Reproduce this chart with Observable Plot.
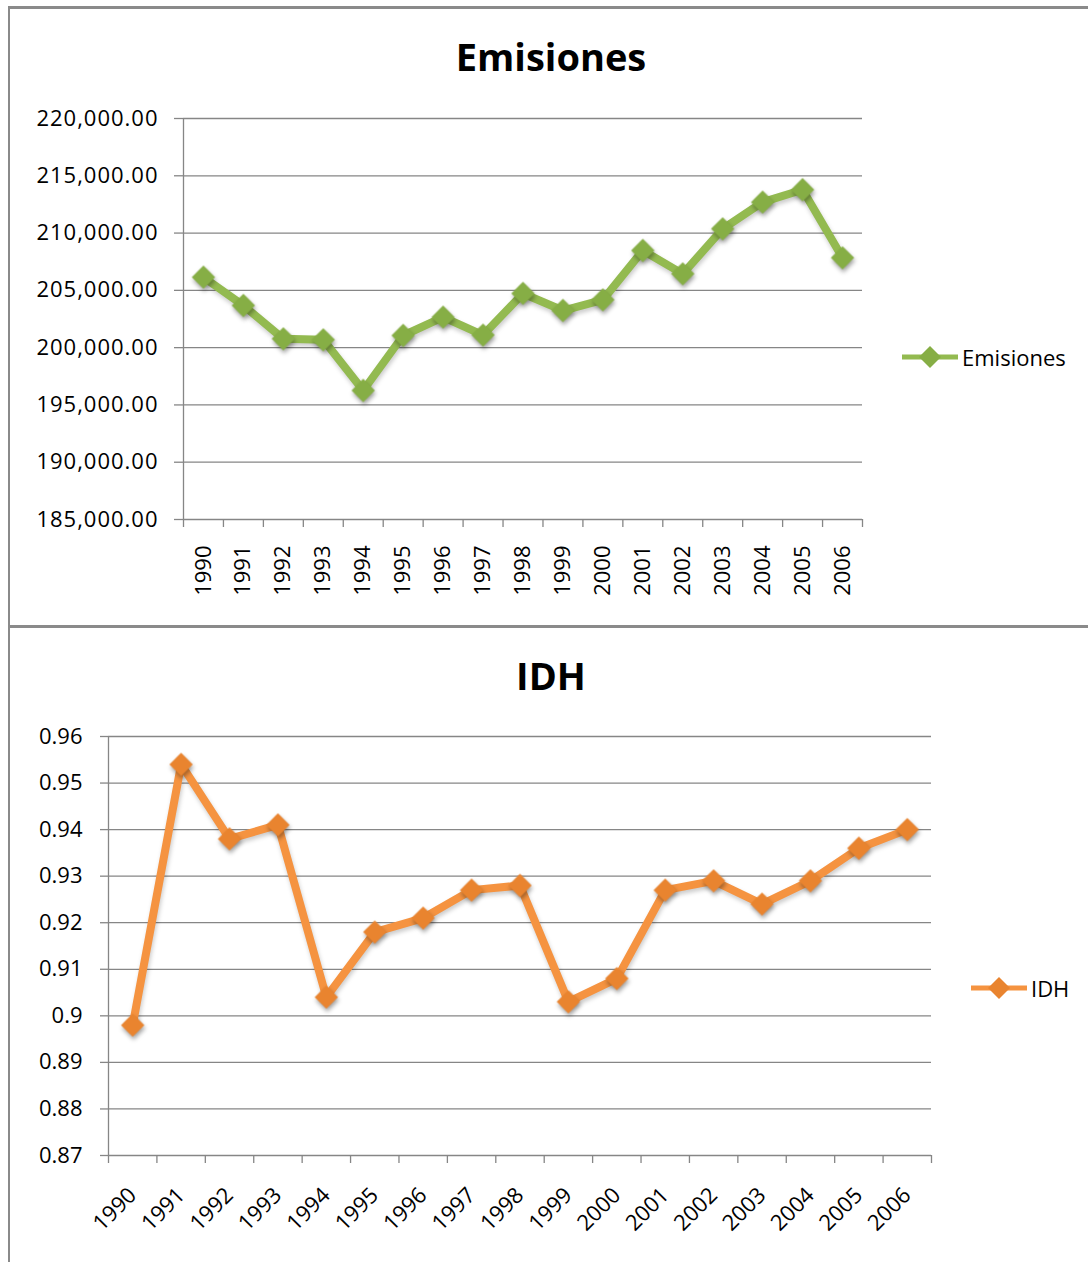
<!DOCTYPE html>
<html>
<head>
<meta charset="utf-8">
<script src="https://cdn.jsdelivr.net/npm/d3@7"></script>
<script src="https://cdn.jsdelivr.net/npm/@observablehq/plot@0.6"></script>
<style>
  html, body { margin: 0; padding: 0; background: #fff; overflow: hidden; }
  #root { position: relative; width: 1088px; height: 1262px; background: #fff; font-family: "Open Sans", sans-serif; }
  .box { position: absolute; border-left: 2px solid #8a8a8a; border-top: 3px solid #8a8a8a; box-sizing: border-box; }
  .title { position: absolute; left: 0; width: 1102px; text-align: center; font-weight: bold; font-size: 38px; line-height: 38px; color: #000; }
  .chart { position: absolute; left: 0; }
  .legend { position: absolute; display: flex; align-items: center; font-size: 22px; color: #000; height: 40px; }
  .legend svg { display: block; margin-right: 4px; }
  svg g[aria-label="dot"] { filter: drop-shadow(1px 3px 2px rgba(0,0,0,0.35)); }
  svg g[aria-label="line"] { filter: drop-shadow(1px 3px 2px rgba(0,0,0,0.2)); }
  #chart1 g[aria-label="y-axis tick label"] text { letter-spacing: 1px; }
</style>
</head>
<body>
<div id="root">
  <div class="box" style="left:8px; top:6px; width:1100px; height:624px;"></div>
  <div class="box" style="left:8px; top:625px; width:1100px; height:660px;"></div>
  <div class="title" style="top:37px;">Emisiones</div>
  <div class="title" style="top:656px;">IDH</div>
  <div id="chart1" class="chart" style="top:0px;"></div>
  <div id="chart2" class="chart" style="top:627px;"></div>
  <div class="legend" style="left:902px; top:337px;">
    <svg width="56" height="24"><line x1="0" y1="12" x2="56" y2="12" stroke="#93BA50" stroke-width="5"/><path d="M28,1L39,12L28,23L17,12Z" fill="#86AE45"/></svg>Emisiones
  </div>
  <div class="legend" style="left:971px; top:968px;">
    <svg width="56" height="24"><line x1="0" y1="12" x2="56" y2="12" stroke="#F59340" stroke-width="5"/><path d="M28,1L39,12L28,23L17,12Z" fill="#E9842F"/></svg>IDH
  </div>
</div>
<script>
// ---- data ----
const years = [1990, 1991, 1992, 1993, 1994, 1995, 1996, 1997, 1998, 1999, 2000, 2001, 2002, 2003, 2004, 2005, 2006];
const emisiones = [206150, 203680, 200770, 200680, 196260, 201060, 202660, 201100, 204730, 203240, 204170, 208480, 206440, 210370, 212700, 213780, 207840];
const idh = [0.898, 0.954, 0.938, 0.941, 0.904, 0.918, 0.921, 0.927, 0.928, 0.903, 0.908, 0.927, 0.929, 0.924, 0.929, 0.936, 0.940];
const emisionesTicks = [185000, 190000, 195000, 200000, 205000, 210000, 215000, 220000];
const idhTicks = [0.87, 0.88, 0.89, 0.90, 0.91, 0.92, 0.93, 0.94, 0.95, 0.96];

const gridColor = "#868686";
const boundaries = years.map(y => y - 0.5).concat([years[years.length - 1] + 0.5]);
const dataE = years.map((y, i) => ({year: y, value: emisiones[i]}));
const dataI = years.map((y, i) => ({year: y, value: idh[i]}));

function chart({data, ticks, yDomain, fmt, color, markColor, height, mt, mb, ml, mr, rotate, xPad, yPad, ySize}) {
  return Plot.plot({
    width: 1088,
    height,
    marginTop: mt, marginBottom: mb, marginLeft: ml, marginRight: mr,
    style: {fontFamily: "'Open Sans', sans-serif", fontSize: "22px", color: "#000", background: "transparent", overflow: "visible"},
    x: {type: "linear", domain: [boundaries[0], boundaries[boundaries.length - 1]], label: null},
    y: {domain: yDomain, label: null},
    marks: [
      Plot.gridY(ticks, {stroke: gridColor, strokeOpacity: 1, strokeWidth: 1.3}),
      Plot.ruleX([boundaries[0]], {stroke: gridColor, strokeWidth: 1.3}),
      Plot.axisY(ticks, {tickSize: ySize, tickPadding: yPad, tickFormat: fmt, stroke: gridColor, fill: "#000", label: null, strokeWidth: 1.3}),
      Plot.axisX(boundaries, {tickSize: 8, tickFormat: () => "", stroke: gridColor, label: null, strokeWidth: 1.3}),
      Plot.axisX(years, {tickSize: 0, tickPadding: xPad, tickRotate: rotate, tickFormat: d => String(d), fill: "#000", label: null}),
      Plot.line(data, {x: "year", y: "value", stroke: color, strokeWidth: 8, strokeLinejoin: "round"}),
      Plot.dot(data, {x: "year", y: "value", symbol: "diamond2", r: 10.5, fill: markColor, stroke: "none"})
    ]
  });
}

document.getElementById("chart1").append(chart({
  data: dataE, ticks: emisionesTicks, yDomain: [185000, 220000], fmt: d3.format(",.2f"),
  color: "#93BA50", markColor: "#86AE45",
  height: 627, mt: 118, mb: 108, ml: 183, mr: 226, rotate: -90, xPad: 26, yPad: 16, ySize: 9
}));

document.getElementById("chart2").append(chart({
  data: dataI, ticks: idhTicks, yDomain: [0.87, 0.96], fmt: d => String(+d.toFixed(2)),
  color: "#F59340", markColor: "#E9842F",
  height: 635, mt: 109, mb: 107, ml: 108, mr: 157, rotate: -45, xPad: 36, yPad: 18, ySize: 8
}));
</script>
</body>
</html>
